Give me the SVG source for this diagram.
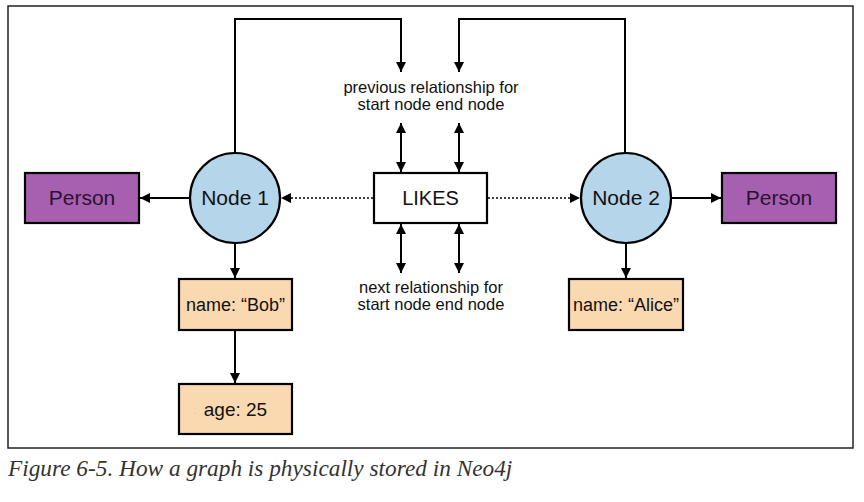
<svg xmlns="http://www.w3.org/2000/svg" width="864" height="502" viewBox="0 0 864 502">
<defs>
<marker id="ah" viewBox="0 0 10 10" refX="10" refY="5" markerWidth="10" markerHeight="10" markerUnits="userSpaceOnUse" orient="auto-start-reverse">
<path d="M0,0 L10,5 L0,10 Z" fill="#000"/>
</marker>
<style>
.ln{stroke:#000;stroke-width:2;fill:none}
.dot{stroke:#000;stroke-width:1.6;fill:none;stroke-dasharray:2 2}
.box{stroke:#000;stroke-width:2.2}
.t{font-family:"Liberation Sans",Arial,sans-serif;fill:#111;text-anchor:middle}
.big{font-size:21px}
.sm{font-size:16.5px}
</style>
</defs>
<rect width="864" height="502" fill="#fff"/>
<rect x="8" y="6" width="845" height="442" fill="none" stroke="#222" stroke-width="1.5"/>
<g id="connectors">
<path class="ln" d="M235,153 V19 H401 V72" marker-end="url(#ah)"/>
<path class="ln" d="M625,153 V19 H459 V72" marker-end="url(#ah)"/>
<line class="ln" x1="401" y1="123" x2="401" y2="172" marker-start="url(#ah)" marker-end="url(#ah)"/>
<line class="ln" x1="459" y1="123" x2="459" y2="172" marker-start="url(#ah)" marker-end="url(#ah)"/>
<line class="ln" x1="401" y1="224" x2="401" y2="273" marker-start="url(#ah)" marker-end="url(#ah)"/>
<line class="ln" x1="459" y1="224" x2="459" y2="273" marker-start="url(#ah)" marker-end="url(#ah)"/>
<line class="dot" x1="373" y1="198" x2="281" y2="198" marker-end="url(#ah)"/>
<line class="dot" x1="488" y1="198" x2="580" y2="198" marker-end="url(#ah)"/>
<line class="ln" x1="190" y1="198" x2="140" y2="198" marker-end="url(#ah)"/>
<line class="ln" x1="671" y1="198" x2="721" y2="198" marker-end="url(#ah)"/>
<line class="ln" x1="235" y1="243" x2="235" y2="278" marker-end="url(#ah)"/>
<line class="ln" x1="235" y1="330" x2="235" y2="383" marker-end="url(#ah)"/>
<line class="ln" x1="626" y1="243" x2="626" y2="278" marker-end="url(#ah)"/>
</g>
<g id="prev-label">
<text class="t sm" x="431" y="93">previous relationship for</text>
<text class="t sm" x="431" y="110">start node end node</text>
</g>
<g id="next-label">
<text class="t sm" x="431" y="293">next relationship for</text>
<text class="t sm" x="431" y="310">start node end node</text>
</g>
<g id="likes">
<rect class="box" x="374" y="173" width="113" height="50" fill="#fff"/>
<text class="t big" x="430.5" y="205" style="font-size:20px">LIKES</text>
</g>
<g id="node1">
<circle class="box" cx="235" cy="198" r="45" fill="#b4d5ea"/>
<text class="t big" x="235" y="205">Node 1</text>
</g>
<g id="node2">
<circle class="box" cx="626" cy="198" r="45" fill="#b4d5ea"/>
<text class="t big" x="626" y="205">Node 2</text>
</g>
<g id="person1">
<rect class="box" x="25" y="173" width="114" height="50" fill="#a75fb0"/>
<text class="t big" x="82" y="205" style="fill:#2a1230">Person</text>
</g>
<g id="person2">
<rect class="box" x="722" y="173" width="114" height="50" fill="#a75fb0"/>
<text class="t big" x="779" y="205" style="fill:#2a1230">Person</text>
</g>
<g id="bob">
<rect class="box" x="179" y="279" width="113" height="51" fill="#fbd9b0"/>
<text class="t big" x="235.5" y="311" style="font-size:18px">name: “Bob”</text>
</g>
<g id="age">
<rect class="box" x="179" y="384" width="113" height="50" fill="#fbd9b0"/>
<text class="t big" x="235.5" y="416" style="font-size:19px">age: 25</text>
</g>
<g id="alice">
<rect class="box" x="569" y="279" width="114" height="51" fill="#fbd9b0"/>
<text class="t big" x="626" y="311" style="font-size:18px">name: “Alice”</text>
</g>
<text x="8" y="476" style="font-family:'Liberation Serif','Times New Roman',serif;font-style:italic;font-size:23.3px;fill:#333">Figure 6-5. How a graph is physically stored in Neo4j</text>
</svg>
